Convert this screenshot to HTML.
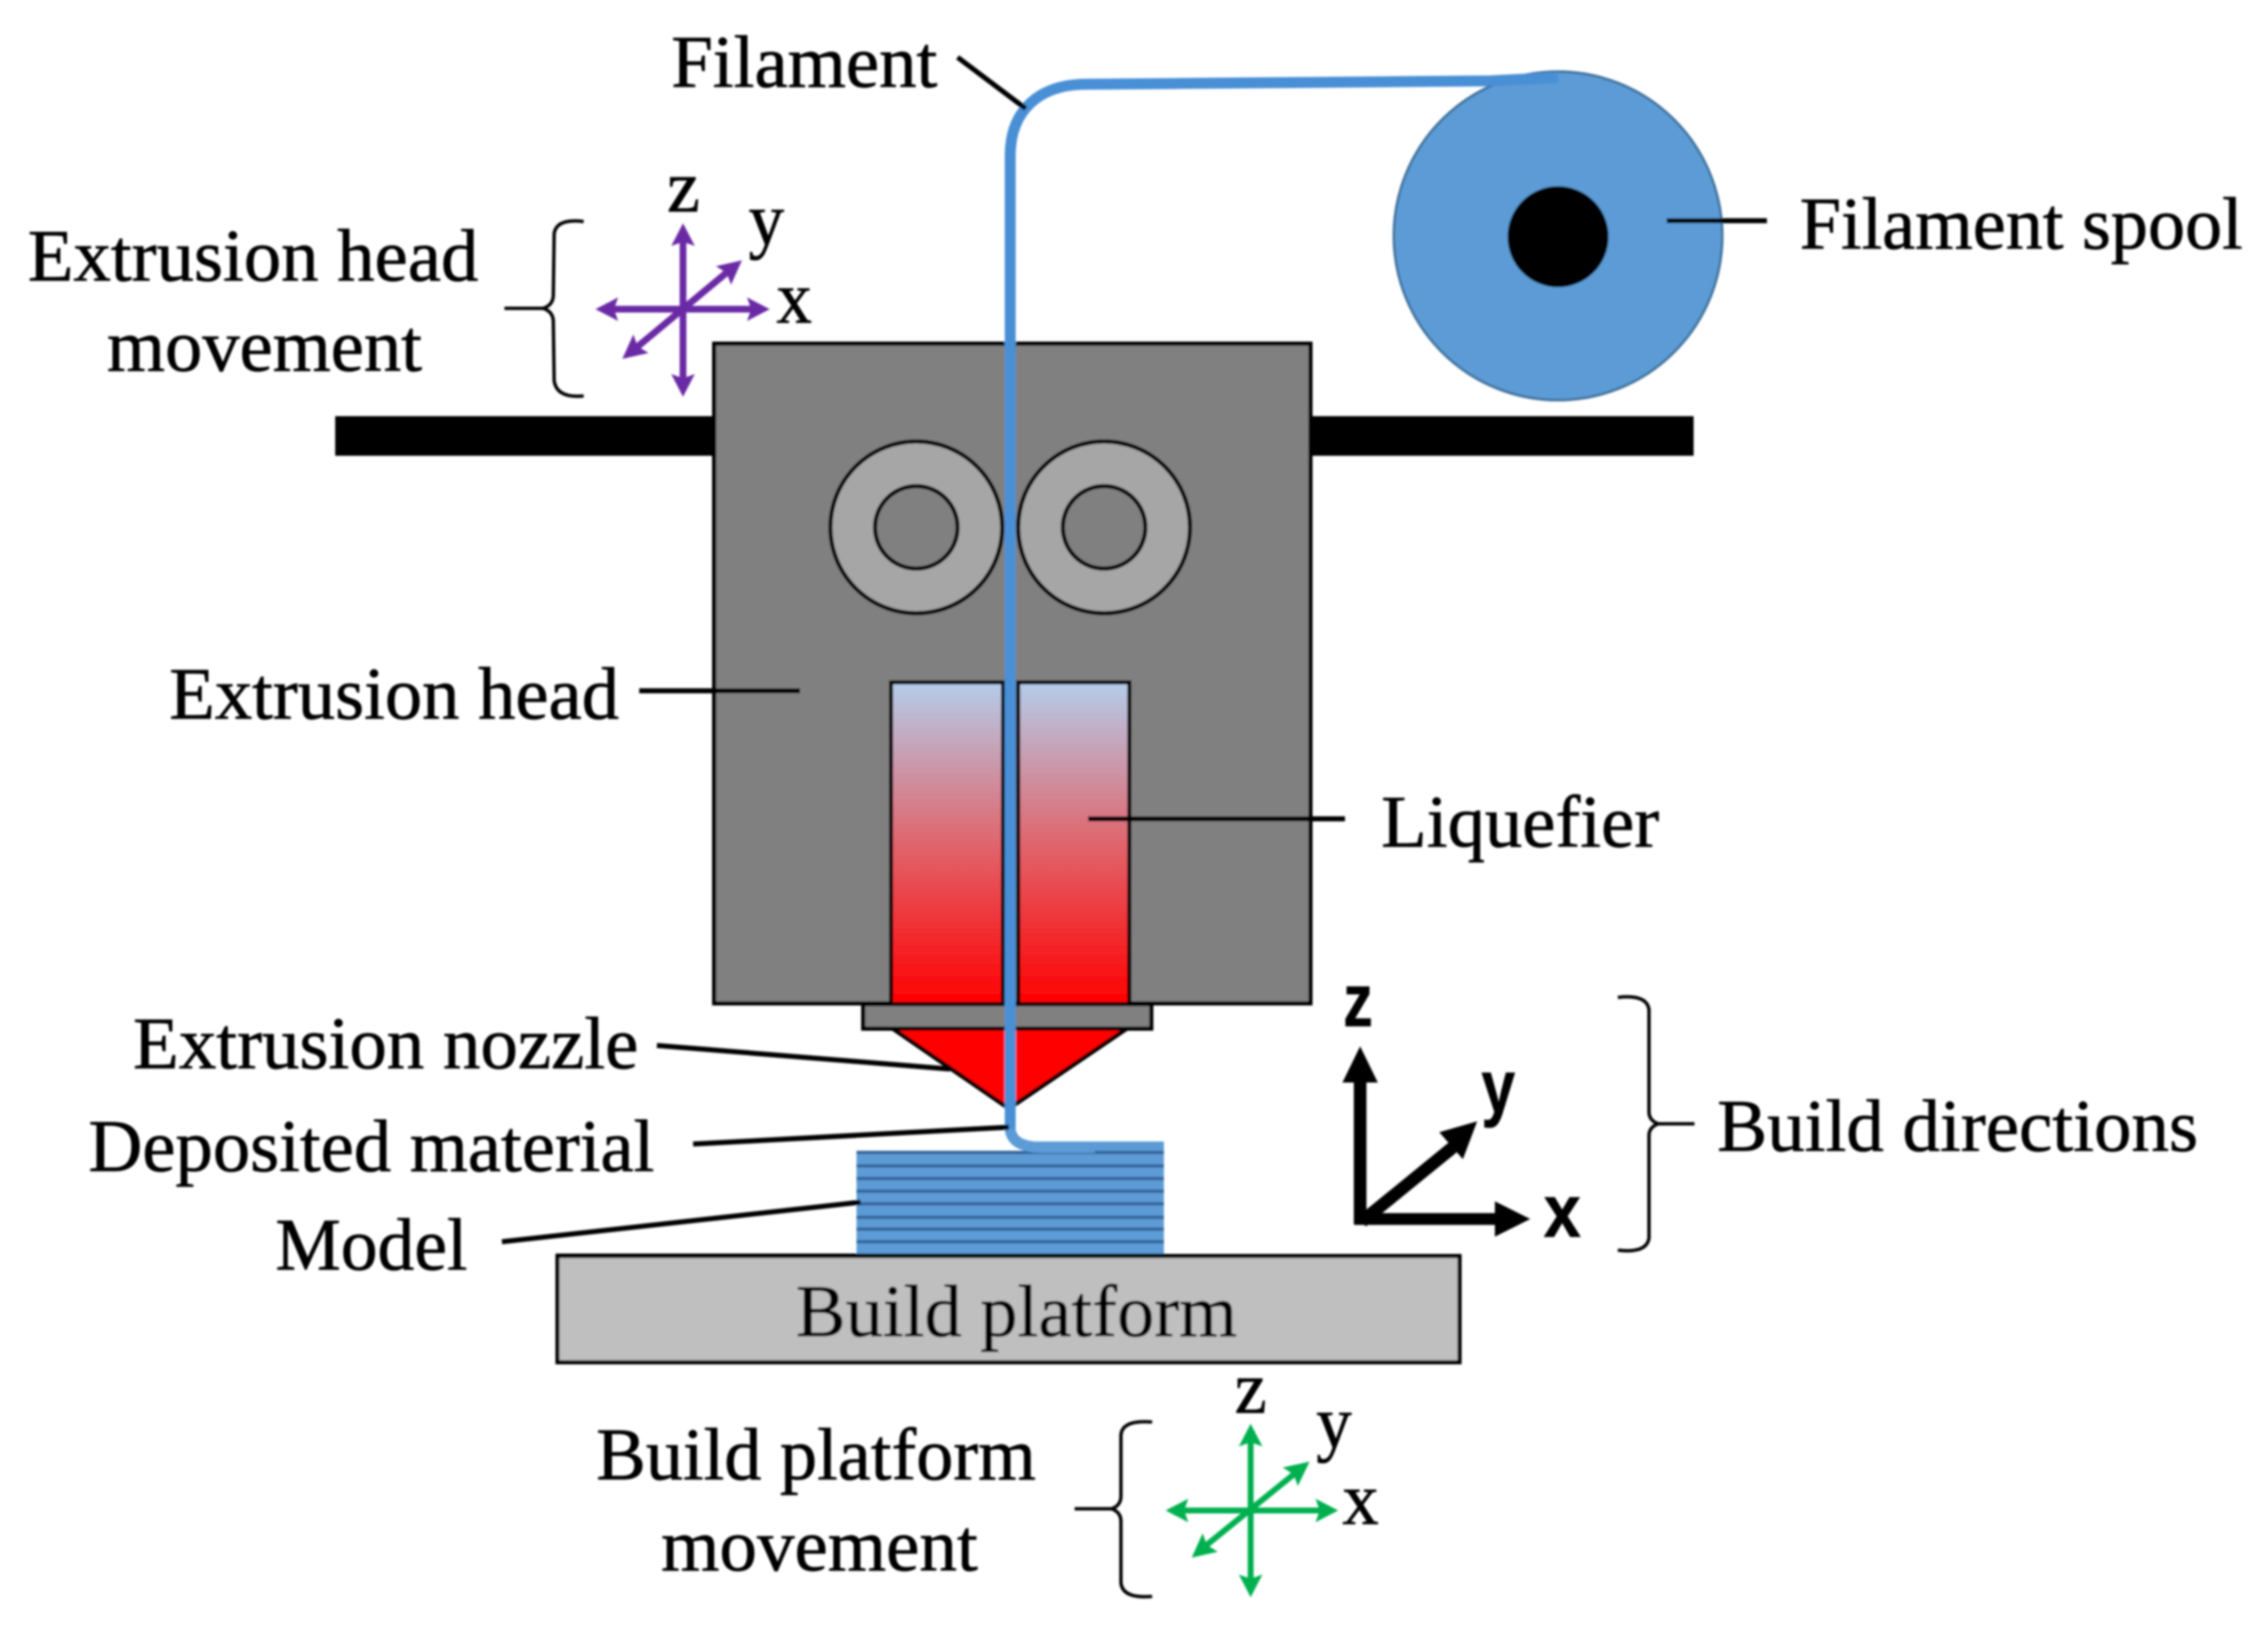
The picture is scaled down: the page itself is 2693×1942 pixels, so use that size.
<!DOCTYPE html>
<html>
<head>
<meta charset="utf-8">
<style>
html,body{margin:0;padding:0;background:#fff;width:2693px;height:1942px;overflow:hidden}
svg{display:block;position:absolute;left:0;top:0}
text{font-family:"Liberation Serif",serif;fill:#000;stroke:#000;stroke-width:0.8px;font-size:88px}
.b{font-family:"Liberation Sans",sans-serif;font-weight:bold}
</style>
</head>
<body>
<svg width="2693" height="1942" viewBox="0 0 2693 1942" xmlns="http://www.w3.org/2000/svg">
<defs>
<linearGradient id="liq" x1="0" y1="0" x2="0" y2="1">
<stop offset="0" stop-color="#b4cdea"/>
<stop offset="0.5" stop-color="#e0656d"/>
<stop offset="1" stop-color="#ff0000"/>
</linearGradient>
<filter id="soft" x="-2%" y="-2%" width="104%" height="104%"><feGaussianBlur stdDeviation="1.2"/></filter>
</defs>
<g filter="url(#soft)">
<!-- rails -->
<rect x="398" y="494" width="450" height="47" fill="#000"/>
<rect x="1556" y="494" width="455" height="47" fill="#000"/>
<!-- spool -->
<circle cx="1850" cy="280" r="195" fill="#5b9bd5" stroke="#41719c" stroke-width="3"/>
<circle cx="1850" cy="281" r="60" fill="#000"/>
<!-- head -->
<rect x="848" y="408" width="708" height="783" fill="#808080" stroke="#000" stroke-width="5"/>
<!-- rollers -->
<circle cx="1088" cy="626" r="102" fill="#a6a6a6" stroke="#000" stroke-width="5"/>
<circle cx="1088" cy="626" r="49" fill="#808080" stroke="#000" stroke-width="5"/>
<circle cx="1311" cy="626" r="102" fill="#a6a6a6" stroke="#000" stroke-width="5"/>
<circle cx="1311" cy="626" r="49" fill="#808080" stroke="#000" stroke-width="5"/>
<!-- liquefier -->
<rect x="1058" y="810" width="133" height="382" fill="url(#liq)" stroke="#000" stroke-width="5"/>
<rect x="1209" y="810" width="132" height="382" fill="url(#liq)" stroke="#000" stroke-width="5"/>
<!-- nozzle -->
<polygon points="1060,1221 1338,1221 1198,1316" fill="#ff0000" stroke="#000" stroke-width="5"/>
<rect x="1025" y="1192" width="342" height="29" fill="#808080" stroke="#000" stroke-width="5"/>
<!-- platform -->
<rect x="662" y="1491" width="1071" height="126" fill="#bfbfbf" stroke="#000" stroke-width="5"/>
<!-- model -->
<rect x="1017" y="1367" width="365" height="125" fill="#5b9bd5"/>
<rect x="1215" y="1355" width="167" height="13" fill="#5b9bd5"/>
<g fill="#35659c">
<rect x="1017" y="1366" width="365" height="4"/>
<rect x="1017" y="1382" width="365" height="4"/>
<rect x="1017" y="1397" width="365" height="4"/>
<rect x="1017" y="1412" width="365" height="4"/>
<rect x="1017" y="1427" width="365" height="4"/>
<rect x="1017" y="1443" width="365" height="4"/>
<rect x="1017" y="1457" width="365" height="4"/>
<rect x="1017" y="1472" width="365" height="4"/>
</g>
<rect x="660" y="1488" width="723" height="5" fill="#000"/>
<!-- filament -->
<path d="M1199 1335 C1199 1352 1208 1361 1235 1362 L1300 1362" fill="none" stroke="#5b9bd5" stroke-width="13"/>
<path d="M1199.5 1340 L1199.5 185 C1199.5 130 1235 100 1290 100 L1770 96 L1850 92" fill="none" stroke="#4a8fd6" stroke-width="13"/>
<!-- leader lines -->
<g fill="none" stroke="#000" stroke-width="6">
<line x1="1137" y1="68" x2="1218" y2="129"/>
<line x1="1979" y1="262" x2="2098" y2="262"/>
<line x1="759" y1="820" x2="950" y2="820"/>
<line x1="1292" y1="972" x2="1597" y2="972"/>
<line x1="780" y1="1241" x2="1128" y2="1269"/>
<line x1="823" y1="1358" x2="1198" y2="1338"/>
<line x1="596" y1="1474" x2="1022" y2="1427"/>
</g>
<!-- braces -->
<g fill="none" stroke="#000" stroke-width="4">
<path d="M693 263 Q661 259 658 277 L657 350 Q657 362 645 366 L599 366 M645 366 Q657 370 657 382 L658 452 Q661 473 693 470"/>
<path d="M1368 1688 Q1333 1685 1331 1703 L1331 1776 Q1331 1787 1320 1791 L1276 1791 M1320 1791 Q1331 1795 1331 1806 L1331 1879 Q1333 1898 1368 1895"/>
<path d="M1921 1184 Q1955 1180 1958 1198 L1958 1320 Q1958 1330 1969 1334 L2012 1334 M1969 1334 Q1958 1338 1958 1348 L1958 1470 Q1955 1488 1921 1484"/>
</g>
<!-- purple arrows -->
<g stroke="#6a2aa5" stroke-width="8" fill="none">
<line x1="811" y1="285" x2="811" y2="452"/>
<line x1="725" y1="367" x2="898" y2="367"/>
<line x1="866" y1="321" x2="754" y2="414"/>
</g>
<g fill="#6a2aa5">
<polygon points="811,265 825,292 811,287 797,292"/>
<polygon points="811,471 825,444 811,449 797,444"/>
<polygon points="707,367 734,353 729,367 734,381"/>
<polygon points="914,367 887,353 892,367 887,381"/>
<polygon points="881,309 868,338 863,324 850,316"/>
<polygon points="739,426 752,397 757,411 770,419"/>
</g>
<!-- green arrows -->
<g stroke="#00b050" stroke-width="7" fill="none">
<line x1="1485" y1="1710" x2="1485" y2="1876"/>
<line x1="1402" y1="1793" x2="1572" y2="1793"/>
<line x1="1540" y1="1747" x2="1429" y2="1837"/>
</g>
<g fill="#00b050">
<polygon points="1485,1690 1499,1717 1485,1712 1471,1717"/>
<polygon points="1485,1896 1499,1869 1485,1874 1471,1869"/>
<polygon points="1384,1793 1411,1779 1406,1793 1411,1807"/>
<polygon points="1589,1793 1562,1779 1567,1793 1562,1807"/>
<polygon points="1555,1735 1541,1764 1536,1750 1523,1742"/>
<polygon points="1415,1849 1428,1820 1433,1834 1446,1842"/>
</g>
<!-- black axes -->
<g stroke="#000" fill="none">
<line x1="1615" y1="1280" x2="1615" y2="1453" stroke-width="15"/>
<line x1="1608" y1="1447" x2="1785" y2="1447" stroke-width="14"/>
<line x1="1617" y1="1450" x2="1725" y2="1362" stroke-width="15"/>
</g>
<g fill="#000">
<polygon points="1615,1242 1636,1285 1594,1285"/>
<polygon points="1817,1447 1775,1426 1775,1468"/>
<polygon points="1754,1331 1737,1376 1709,1344"/>
</g>
<!-- labels -->
<text x="797" y="103" textLength="316" lengthAdjust="spacingAndGlyphs">Filament</text>
<text x="33" y="333" textLength="535" lengthAdjust="spacingAndGlyphs">Extrusion head</text>
<text x="127" y="440" textLength="374" lengthAdjust="spacingAndGlyphs">movement</text>
<text x="2137" y="295" textLength="526" lengthAdjust="spacingAndGlyphs">Filament spool</text>
<text x="201" y="853" textLength="534" lengthAdjust="spacingAndGlyphs">Extrusion head</text>
<text x="1640" y="1005" textLength="330" lengthAdjust="spacingAndGlyphs">Liquefier</text>
<text x="158" y="1268" textLength="600" lengthAdjust="spacingAndGlyphs">Extrusion nozzle</text>
<text x="105" y="1390" textLength="672" lengthAdjust="spacingAndGlyphs">Deposited material</text>
<text x="327" y="1507" textLength="228" lengthAdjust="spacingAndGlyphs">Model</text>
<text x="945" y="1586" textLength="524" lengthAdjust="spacingAndGlyphs">Build platform</text>
<text x="708" y="1756" textLength="522" lengthAdjust="spacingAndGlyphs">Build platform</text>
<text x="785" y="1864" textLength="376" lengthAdjust="spacingAndGlyphs">movement</text>
<text x="2039" y="1366" textLength="571" lengthAdjust="spacingAndGlyphs">Build directions</text>
<text x="792" y="251" textLength="39" lengthAdjust="spacingAndGlyphs">z</text>
<text x="889" y="290" textLength="42" lengthAdjust="spacingAndGlyphs">y</text>
<text x="922" y="383" textLength="42" lengthAdjust="spacingAndGlyphs">x</text>
<text x="1466" y="1677" textLength="38" lengthAdjust="spacingAndGlyphs">z</text>
<text x="1563" y="1718" textLength="42" lengthAdjust="spacingAndGlyphs">y</text>
<text x="1594" y="1809" textLength="43" lengthAdjust="spacingAndGlyphs">x</text>
<text class="b" x="1595" y="1218" textLength="35" lengthAdjust="spacingAndGlyphs">z</text>
<text class="b" x="1759" y="1320" textLength="40" lengthAdjust="spacingAndGlyphs">y</text>
<text class="b" x="1833" y="1468" textLength="44" lengthAdjust="spacingAndGlyphs">x</text>
</g>
</svg>
</body>
</html>
